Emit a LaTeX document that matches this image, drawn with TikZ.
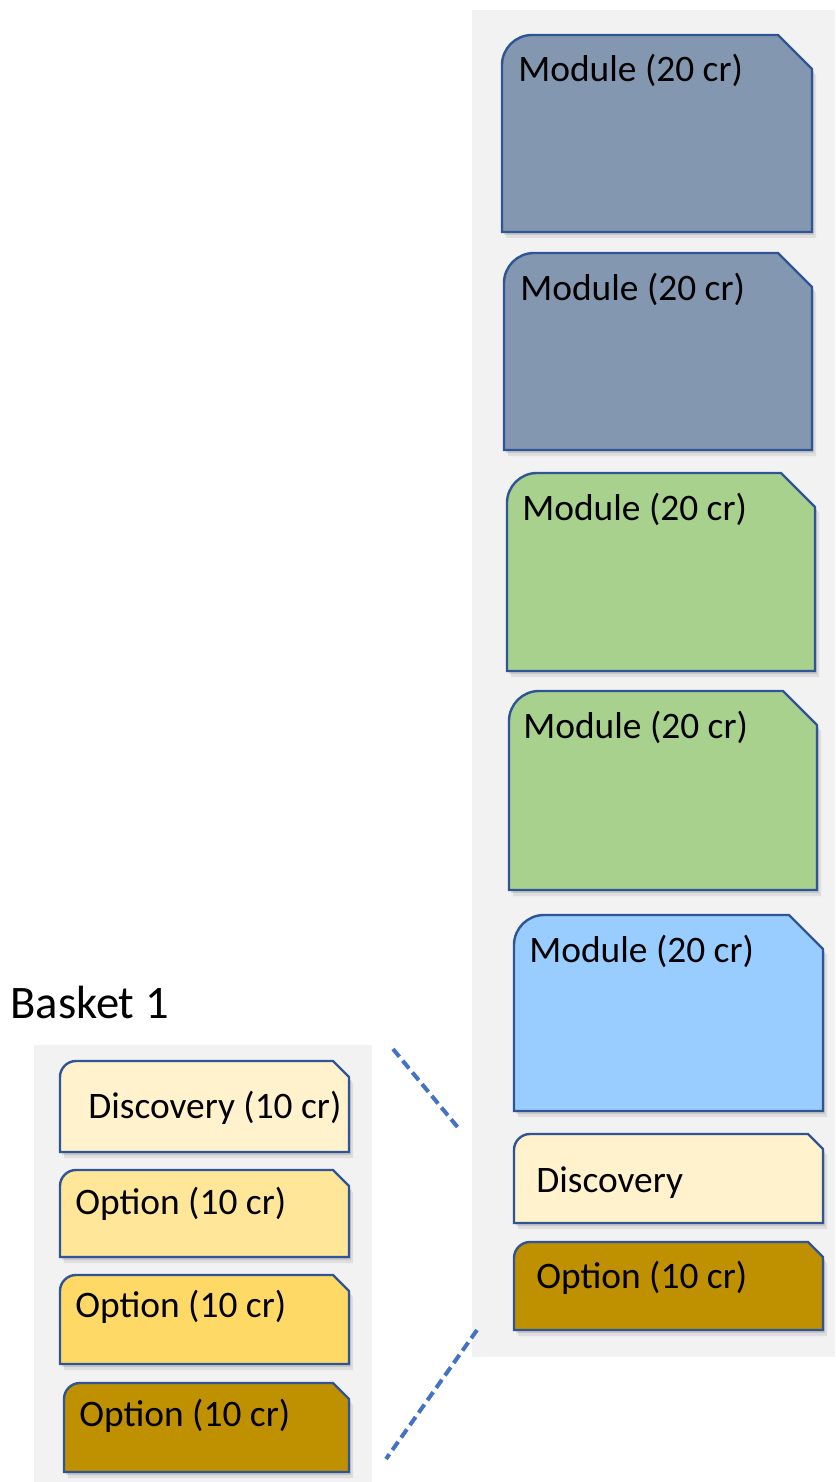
\documentclass[tikz,border=0pt]{standalone}
\usepackage{fontspec}
\setmainfont{Carlito}
\definecolor{panelgray}{HTML}{F2F2F2}
\definecolor{edgeblue}{HTML}{2F5597}
\definecolor{slate}{HTML}{8497B0}
\definecolor{leaf}{HTML}{A9D18E}
\definecolor{sky}{HTML}{99CCFF}
\definecolor{cream}{HTML}{FFF2CC}
\definecolor{lightgold}{HTML}{FFE699}
\definecolor{gold}{HTML}{FFD966}
\definecolor{darkgold}{HTML}{BF9000}
\definecolor{dashblue}{HTML}{4472C4}
\tikzset{
  cardline/.style={draw=edgeblue,line width=1.2pt,line join=miter},
  cardtext/.style={anchor=base west,inner sep=0pt,font=\fontsize{18.7}{21}\selectfont},
  titletext/.style={anchor=base west,inner sep=0pt,font=\fontsize{23.3}{26}\selectfont},
  linkline/.style={draw=dashblue,line width=2pt,dash pattern=on 5pt off 2.6pt},
  panel/.style={fill=panelgray}
}
% #1 name, #2 x1, #3 y1, #4 x2, #5 y2, #6 corner radius, #7 cut, #8 fill
\newcommand{\cardshape}[8]{%
  \begin{scope}[shift={(2,3)}]
    \fill[black,opacity=0.10] (#2,#5) [rounded corners=#6] -- (#2,#3) [sharp corners] -- ({#4-#7},#3) -- (#4,{#3+#7}) -- (#4,#5) -- cycle;
  \end{scope}
  \begin{scope}[shift={(4,6)}]
    \fill[black,opacity=0.08] (#2,#5) [rounded corners=#6] -- (#2,#3) [sharp corners] -- ({#4-#7},#3) -- (#4,{#3+#7}) -- (#4,#5) -- cycle;
  \end{scope}
  \draw[cardline,fill=#8] (#2,#5) [rounded corners=#6] -- (#2,#3) [sharp corners] -- ({#4-#7},#3) -- (#4,{#3+#7}) -- (#4,#5) -- cycle;
  \coordinate (#1) at ({(#2+#4)/2},{(#3+#5)/2});
}
\begin{document}
\begin{tikzpicture}[x=0.5pt,y=-0.5pt]
\useasboundingbox (0,0) rectangle (835,1482);
% panels
\fill[panel] (472,10) rectangle (835,1357);
\fill[panel] (34,1045) rectangle (372,1482);
% right column
\cardshape{m1}{502}{35}{812}{232}{15pt}{34}{slate}
\node[cardtext] (tm1) at (518,82) {Module (20 cr)};
\cardshape{m2}{504}{253}{812}{450}{15pt}{34}{slate}
\node[cardtext] (tm2) at (520,300) {Module (20 cr)};
\cardshape{m3}{507}{473}{815}{671}{15pt}{34}{leaf}
\node[cardtext] (tm3) at (522,520) {Module (20 cr)};
\cardshape{m4}{509}{691}{817}{890}{15pt}{34}{leaf}
\node[cardtext] (tm4) at (523,738) {Module (20 cr)};
\cardshape{m5}{514}{915}{823}{1111}{15pt}{34}{sky}
\node[cardtext] (tm5) at (529,962) {Module (20 cr)};
\cardshape{rd}{514}{1134}{823}{1223}{8pt}{15}{cream}
\node[cardtext] (trd) at (536,1192) {Discovery};
\cardshape{ro}{514}{1242}{823}{1330}{8pt}{15}{darkgold}
\node[cardtext] (tro) at (536,1288) {Option (10 cr)};
% basket
\node[titletext] (basket) at (10,1018) {Basket 1};
\cardshape{bd}{60}{1061}{349}{1152}{8pt}{16}{cream}
\node[cardtext] (tbd) at (88,1118) {Discovery (10 cr)};
\cardshape{bo1}{60}{1170}{349}{1257}{8pt}{16}{lightgold}
\node[cardtext] (tbo1) at (75,1214) {Option (10 cr)};
\cardshape{bo2}{60}{1275}{349}{1364}{8pt}{16}{gold}
\node[cardtext] (tbo2) at (75,1317) {Option (10 cr)};
\cardshape{bo3}{64}{1383}{349}{1472}{8pt}{16}{darkgold}
\node[cardtext] (tbo3) at (79,1426) {Option (10 cr)};
% dashed links
\coordinate (d1a) at (393,1049);
\coordinate (d1b) at (460,1130);
\coordinate (d2a) at (477,1330);
\coordinate (d2b) at (386,1459);
\draw[linkline] (d1a) -- (d1b);
\draw[linkline] (d2a) -- (d2b);
\end{tikzpicture}
\end{document}
